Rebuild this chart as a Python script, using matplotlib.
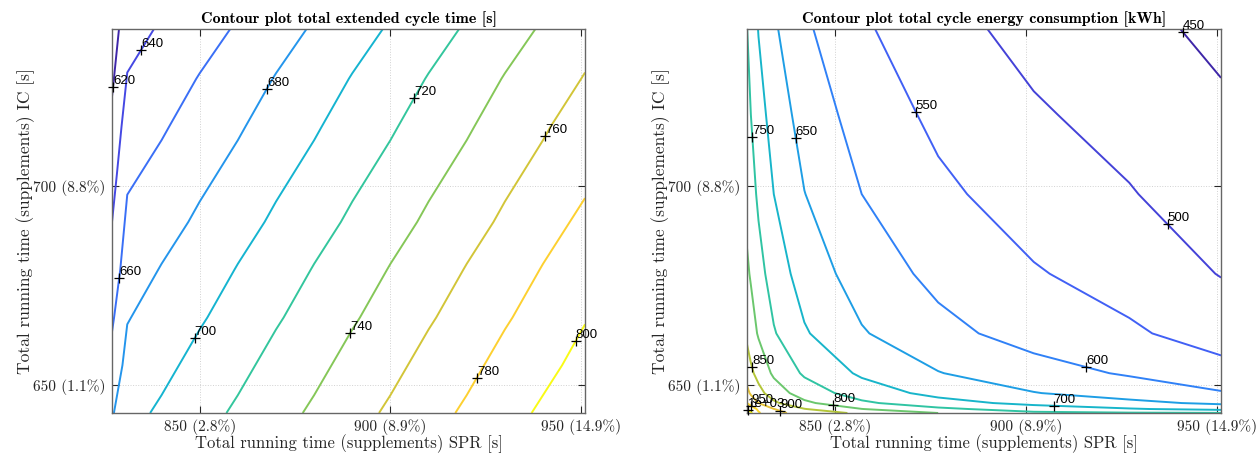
import numpy as np
import matplotlib
matplotlib.use("Agg")
import matplotlib.pyplot as plt
from matplotlib.colors import LinearSegmentedColormap

# ---------------------
# DATA
# ---------------------

# grid for the cycle time plot
spr_time = [827, 831, 840, 850, 860, 870, 880, 890, 900, 910, 920, 930, 940, 951]
ic_time = [643, 655, 667, 679, 691, 703, 715, 727, 739.5]

cycle_time = [
    [678, 694, 703, 713, 723, 733, 743, 753, 763, 773, 783, 793, 803, 814],
    [667, 686, 695, 706, 715, 726, 735, 746, 755, 766, 775, 786, 795, 806],
    [657, 679, 688, 698, 708, 718, 728, 738, 748, 758, 768, 778, 788, 799],
    [647, 671, 681, 690, 701, 710, 721, 730, 741, 750, 761, 770, 781, 791],
    [640, 664, 673, 683, 693, 703, 713, 723, 733, 743, 753, 763, 773, 784],
    [632, 657, 665, 676, 685, 696, 705, 716, 725, 736, 745, 756, 765, 776],
    [625, 649, 658, 668, 678, 688, 698, 708, 718, 728, 738, 748, 758, 769],
    [617, 641, 650, 661, 670, 681, 690, 701, 710, 721, 730, 741, 750, 761],
    [609, 633, 642, 652, 662, 672, 682, 692, 702, 712, 722, 732, 742, 753],
]

time_levels = [620, 640, 660, 680, 700, 720, 740, 760, 780, 800]

# where the labels sit
time_label_pos = {
    620: (826.8, 725.0),
    640: (833.8, 734.6),
    660: (828.3, 677.0),
    680: (867.2, 724.5),
    700: (847.4, 662.2),
    720: (906.0, 722.3),
    740: (888.0, 663.5),
    760: (939.2, 713.0),
    780: (922.1, 652.0),
    800: (946.9, 661.7),
}

# grid for the energy plot
spr_energy = [827, 828, 830, 834, 842, 857, 877, 902, 927, 951]
ic_energy = [643, 644, 645.5, 648, 653, 663, 678, 698, 718, 739.5]

energy = [
    [1060, 1010, 955, 915, 880, 840, 800, 760, 755, 752],
    [995, 973.5, 942, 901, 852, 801, 760.5, 727.5, 704, 686],
    [950, 930, 900, 859, 810, 759, 719, 686, 662, 641],
    [914, 893, 866, 825, 777, 726, 685, 652, 628, 604],
    [876, 860, 833, 792, 743, 692, 652, 619, 595, 567],
    [840, 822, 795, 754, 705, 654, 614, 581, 557, 529],
    [808, 795, 768, 727, 678, 627, 587, 554, 530, 498],
    [783, 770, 741, 700, 651, 600, 560, 527, 503, 473],
    [766, 750, 720, 679, 630, 579, 539, 506, 482, 456],
    [751, 729, 698, 657, 608, 557, 517, 484, 460, 442],
]

energy_levels = [450, 500, 550, 600, 650, 700, 750, 800, 850, 900, 950, 1000]

energy_label_pos = {
    450: (939.8, 737.9),
    500: (935.8, 689.5),
    550: (870.4, 718.8),
    600: (915.0, 653.5),
    650: (839.6, 711.9),
    700: (907.2, 644.7),
    750: (828.0, 712.3),
    800: (849.3, 644.9),
    850: (827.9, 654.4),
    900: (835.8, 643.6),
    950: (827.6, 644.3),
    1000: (827.1, 643.6),
}

x_ticks = [850, 900, 950]
x_tick_labels = ["850 (2.8%)", "900 (8.9%)", "950 (14.9%)"]
y_ticks = [650, 700]
y_tick_labels = ["650 (1.1%)", "700 (8.8%)"]

# parula-like colormap
parula = LinearSegmentedColormap.from_list(
    "parula",
    [
        (0.2422, 0.1504, 0.6603),
        (0.2810, 0.3228, 0.9579),
        (0.1786, 0.5289, 0.9682),
        (0.0689, 0.6948, 0.8394),
        (0.2161, 0.7843, 0.5923),
        (0.6720, 0.7793, 0.2227),
        (0.9970, 0.7659, 0.2199),
        (0.9769, 0.9839, 0.0805),
    ],
)

plt.rcParams["axes.formatter.use_mathtext"] = True
SERIF = ["cmr10", "DejaVu Serif"]
BOLD = ["cmb10", "DejaVu Serif"]
LABEL_FONT = ["Liberation Sans", "DejaVu Sans"]


def dense_points(path):
    # points along every piece of a contour path, not just its vertices
    out = []
    for poly in path.to_polygons(closed_only=False):
        for a, b in zip(poly[:-1], poly[1:]):
            t = np.linspace(0, 1, 30)[:, None]
            out.append(a + (b - a) * t)
    return np.vstack(out) if out else np.empty((0, 2))


def add_labels(ax, cs, levels, positions):
    x0, x1 = ax.get_xlim()
    y0, y1 = ax.get_ylim()
    for i, level in enumerate(levels):
        pts = dense_points(cs.get_paths()[i])
        if len(pts) == 0:
            continue
        tx, ty = positions[level]
        d = ((pts[:, 0] - tx) / (x1 - x0)) ** 2 + ((pts[:, 1] - ty) / (y1 - y0)) ** 2
        px, py = pts[np.argmin(d)]
        ax.plot(px, py, "+", color="k", ms=7, mew=0.9, clip_on=False, zorder=5)
        ax.text(
            px, py, "%.3g" % level,
            fontsize=9.5, family=LABEL_FONT,
            ha="left", va="bottom", zorder=6,
        )


def style_axes(ax, title):
    ax.set_xlim(827, 951)
    ax.set_ylim(643, 739.5)
    ax.set_xticks(x_ticks)
    ax.set_xticklabels(x_tick_labels, family=SERIF, fontsize=11)
    ax.set_yticks(y_ticks)
    ax.set_yticklabels(y_tick_labels, family=SERIF, fontsize=11)
    ax.tick_params(direction="in", top=True, right=True, length=5,
                   color="0.15", labelcolor="0.15", pad=5)
    ax.tick_params(axis="x", pad=4)
    ax.grid(True, linestyle=":", color="0.82", linewidth=0.7)
    for s in ax.spines.values():
        s.set_color("0.4")
        s.set_linewidth(1.0)
    ax.set_xlabel("Total running time (supplements) SPR [s]",
                  family=SERIF, fontsize=12, color="0.15", labelpad=0)
    ax.set_ylabel("Total running time (supplements) IC [s]",
                  family=SERIF, fontsize=12.5, color="0.15", labelpad=-2)
    ax.set_title(title, family=BOLD, fontsize=11.5, pad=4)


fig = plt.figure(figsize=(12.57, 4.53), dpi=100)
ax1 = fig.add_axes([0.0891, 0.0883, 0.3763, 0.8477])
ax2 = fig.add_axes([0.5943, 0.0883, 0.3771, 0.8477])

# left: total extended cycle time
cs1 = ax1.contour(spr_time, ic_time, np.array(cycle_time),
                  levels=time_levels, cmap=parula, linewidths=1.4)
style_axes(ax1, "Contour plot total extended cycle time [s]")
add_labels(ax1, cs1, time_levels, time_label_pos)

# right: total cycle energy consumption
cs2 = ax2.contour(spr_energy, ic_energy, np.array(energy),
                  levels=energy_levels, cmap=parula, linewidths=1.4)
style_axes(ax2, "Contour plot total cycle energy consumption [kWh]")
add_labels(ax2, cs2, energy_levels, energy_label_pos)

fig.savefig("out.png", dpi=100)
